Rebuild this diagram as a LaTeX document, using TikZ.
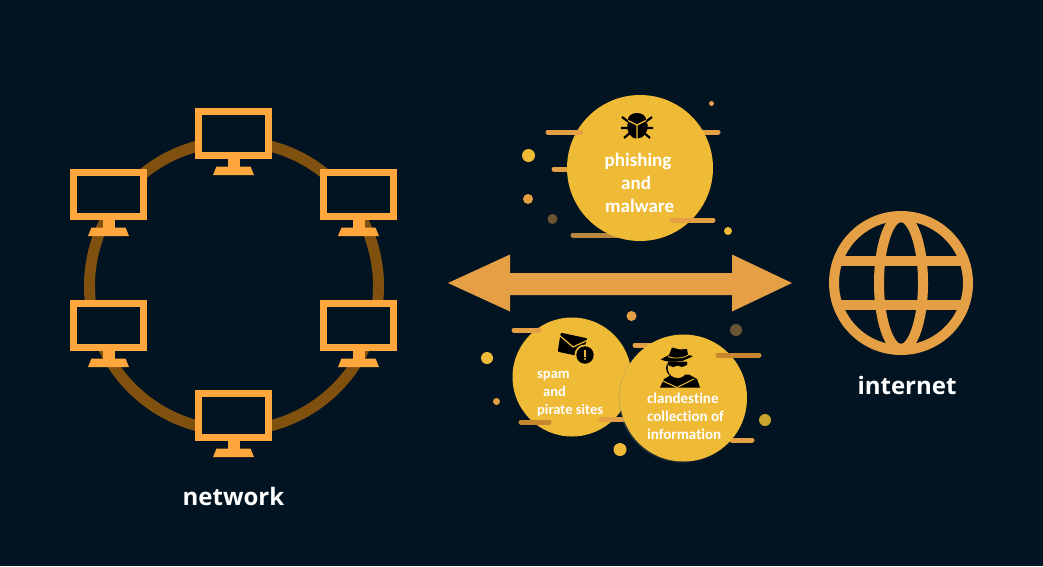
\documentclass[tikz,border=0pt]{standalone}
\usepackage{fontspec}
\usepackage{tikz}
\setmainfont[Ligatures=NoCommon]{Carlito}
\newfontfamily\labelfont{Open Sans}
\usetikzlibrary{shadows}
\definecolor{nightblue}{HTML}{021422}
\definecolor{ringbrown}{HTML}{80500F}
\definecolor{screenorange}{HTML}{FFA63C}
\definecolor{arroworange}{HTML}{E59F45}
\definecolor{ballyellow}{HTML}{EFBA36}
\definecolor{streakdark}{HTML}{C8862E}
\definecolor{streakdull}{HTML}{B9863E}
\definecolor{dotbrown}{HTML}{6B5434}
\definecolor{dotolive}{HTML}{C9A530}
\tikzset{
    screen/.style={draw=screenorange, fill=nightblue, line width=7pt, shape=rectangle, minimum width=70pt, minimum height=44pt, inner sep=0pt, outer sep=0pt},
    ball/.style={fill=ballyellow, shape=circle, inner sep=0pt, outer sep=0pt},
    streak/.style={line width=5pt, line cap=round, draw=arroworange},
    balltext/.style={text=white, anchor=base west, inner sep=0pt},
    bigballtext/.style={balltext, font=\bfseries\fontsize{19}{22}\selectfont},
    spamballtext/.style={balltext, font=\bfseries\fontsize{14.5}{17}\selectfont},
    spyballtext/.style={balltext, font=\bfseries\fontsize{15}{18}\selectfont},
    biglabel/.style={text=white, font=\labelfont\bfseries\fontsize{24}{28}\selectfont, inner sep=0pt},
}
\begin{document}
\begin{tikzpicture}[x=1pt, y=-1pt]
    \fill[nightblue] (0,0) rectangle (1043,566);
    % Ring and the screens on it:
    \node[draw=ringbrown, line width=11pt, shape=circle, minimum size=289pt, inner sep=0pt, outer sep=0pt] (ring) at (234,286) {};
    \foreach \name/\cx/\cy in {top/233.5/133.5, upleft/108.5/194.5, upright/358.5/194.5, lowleft/108.5/325.5, lowright/358.5/325.5, bottom/233.5/415.5} {
        \node[screen] (\name) at (\cx,\cy) {};
        \fill[screenorange] (\cx-6,\cy+25) rectangle (\cx+6,\cy+34);
        \fill[screenorange] (\cx-17,\cy+33) -- (\cx+17,\cy+33) -- (\cx+20.5,\cy+41.5) -- (\cx-20.5,\cy+41.5) -- cycle;
    }
    \node[biglabel] (network) at (233.5,496) {network};

    % Double arrow:
    \fill[arroworange] (448,283) -- (510,254.5) -- (510,273) -- (732,273) -- (732,254.5) -- (792,283) -- (732,311.5) -- (732,295) -- (510,295) -- (510,311.5) -- cycle;

    % Globe:
    \node[draw=arroworange, line width=10pt, shape=circle, minimum size=134pt, inner sep=0pt, outer sep=0pt] (globe) at (901,283) {};
    \begin{scope}[line width=10pt]
        \draw[arroworange] (globe.center) ellipse (22 and 66);
        \draw[arroworange] (838,260.5) -- (964,260.5);
        \draw[arroworange] (838,305) -- (964,305);
    \end{scope}
    \node[biglabel] (internet) at (907,385) {internet};

    % Upper ball with its streaks and dots:
    \draw[streak] (554,169) -- (575,169);
    \draw[streak, draw=streakdull] (573,235) -- (620,235);
    \draw[streak] (695,132) -- (718,132);
    \node[ball, minimum size=146pt] (phishing) at (640,168) {};
    \draw[streak] (548,132) -- (581,132);
    \draw[streak] (672,220) -- (713,220);
    \fill[ballyellow] (528.5,155.5) circle[radius=6.5];
    \fill[arroworange] (528,199) circle[radius=5];
    \fill[dotbrown] (552.5,219) circle[radius=5];
    \fill[arroworange] (711.5,103.5) circle[radius=2.5];
    \fill[ballyellow] (728,231) circle[radius=4];
    % bug
    \fill (637,119.5) ellipse (9 and 6.5);
    \fill (627.5,124) .. controls (630,119) and (644,119) .. (647.5,124) .. controls (648.5,132) and (644,138.5) .. (637,138.5) .. controls (630,138.5) and (626.5,132) .. (627.5,124) -- cycle;
    \draw[line width=2.2pt] (622,117) -- (630,123) (652,117) -- (644,123) (621,128) -- (630,128) (653,128) -- (644,128) (624,138) -- (631,132) (650,138) -- (643,132);
    \draw[ballyellow, line width=1.3pt] (637,139) -- (637,125) -- (628,120.5) (637,125) -- (646,120.5);
    \node[bigballtext] (phishtext) at (604.5,166) {phishing};
    \node[bigballtext] (andtext) at (621,189) {and};
    \node[bigballtext] (malwaretext) at (605,212) {malware};

    % Lower balls with their streaks and dots:
    \draw[streak] (635,345) -- (660,345);
    \draw[streak] (732,440) -- (752,440);
    \fill[arroworange] (631.5,316) circle[radius=5];
    \fill[dotbrown] (736,330) circle[radius=6];
    \fill[ballyellow] (487,358) circle[radius=6];
    \fill[arroworange] (496.5,401.5) circle[radius=3.5];
    \fill[ballyellow] (620,449.5) circle[radius=6.5];
    \fill[dotolive] (765,420) circle[radius=6];
    \node[ball, minimum size=119pt] (spam) at (572,377) {};
    \draw[streak] (514,330) -- (539,330);
    \draw[streak, draw=streakdark] (521,422) -- (549,422);
    \draw[streak] (601,419) -- (630,419);
    \node[ball, minimum size=127pt, drop shadow={shadow xshift=-1.5pt, shadow yshift=-1pt, opacity=.25}] (spy) at (683.5,398) {};
    \draw[streak, draw=streakdark] (718,355) -- (759,355);
    % envelope
    \fill[rounded corners=1pt] (560.7,332.7) -- (587.3,338.3) -- (581.7,356.7) -- (557.7,351.7) -- cycle;
    \draw[ballyellow, line width=1.2pt, line join=round] (559,335) -- (573,347) -- (588,340);
    \fill[ballyellow] (585,355) circle[radius=10.5];
    \fill (585,355) circle[radius=8.7];
    \fill[ballyellow] (584.1,349.5) rectangle (585.9,356.5);
    \fill[ballyellow] (585,359) circle[radius=1.1];
    % spy
    \fill (676,387.5) -- (660,387.5) -- (664,379) -- (672,374.5) -- (689,374.5) -- (697,379) -- (700,387.5) -- cycle;
    \fill (676.5,368) ellipse (10.5 and 10);
    \fill[ballyellow] (667.5,361) -- (688,361) -- (687.5,370) .. controls (686,375) and (682,378) .. (678,378) .. controls (673,378) and (669,375) .. (668,370) -- cycle;
    \fill (668,361.5) -- (687,361.5) -- (687,365) -- (682,367) -- (678,365.5) -- (673,367) -- (668,365) -- cycle;
    \draw[ballyellow, line width=1pt] (663,381) -- (677,387.5) -- (694,379);
    \fill (660.7,359.3) .. controls (668,363.5) and (684,362) .. (693,356) -- (688,355) -- (687,349) -- (680,349.5) -- (672,347.5) -- (669,355) -- cycle;
    \draw[ballyellow, line width=.8pt] (668,356.5) .. controls (674,359) and (684,358.5) .. (689,354.5);
    \node[spamballtext] (spamtext) at (537,378) {spam};
    \node[spamballtext] (spamand) at (543,396) {and};
    \node[spamballtext] (piratetext) at (537,414) {pirate sites};
    \node[spyballtext] (clandtext) at (647,403) {clandestine};
    \node[spyballtext] (colltext) at (647,421) {collection of};
    \node[spyballtext] (infotext) at (647,439) {information};
\end{tikzpicture}
\end{document}
